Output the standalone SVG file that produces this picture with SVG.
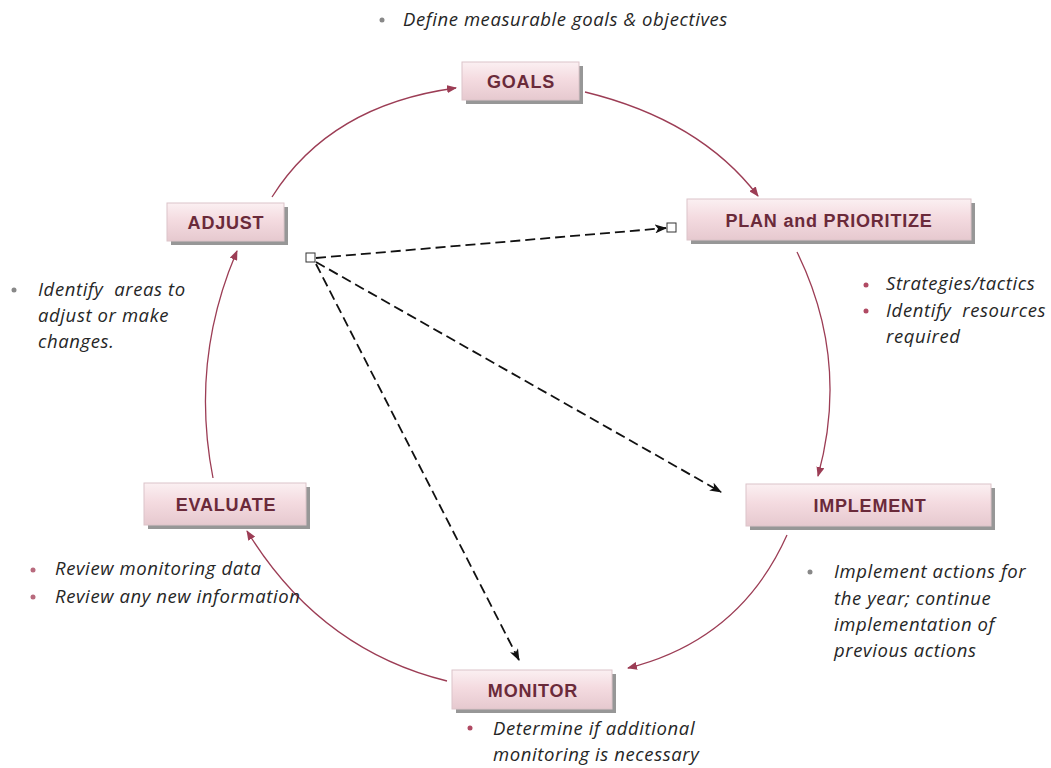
<svg xmlns="http://www.w3.org/2000/svg" width="1051" height="768" viewBox="0 0 1051 768">
<defs>
<linearGradient id="bg" x1="0" y1="0" x2="0" y2="1">
<stop offset="0" stop-color="#fbf0f2"/>
<stop offset="0.45" stop-color="#f4dbe0"/>
<stop offset="1" stop-color="#e6c9cf"/>
</linearGradient>
<marker id="ah" markerWidth="10" markerHeight="8" refX="9" refY="4" orient="auto" markerUnits="userSpaceOnUse">
<path d="M0,0 L10,4 L0,8 z" fill="#9c3d55"/>
</marker>
<marker id="dh" markerWidth="12" markerHeight="9" refX="11" refY="4.5" orient="auto" markerUnits="userSpaceOnUse">
<path d="M0,0 L12,4.5 L0,9 L3,4.5 z" fill="#111"/>
</marker>
<style>
.shadow{fill:#7d7d7d;opacity:0.8}
.box{fill:url(#bg);stroke:#dcc4c9;stroke-width:1}
.lbl{font-family:"Liberation Sans",Arial,sans-serif;font-weight:bold;font-size:18px;letter-spacing:0.8px;fill:#6a2a3a;text-anchor:middle}
.t{font-family:"Open Sans","Liberation Sans",sans-serif;font-style:italic;font-size:18.5px;letter-spacing:0.6px;fill:#262626;white-space:pre}
.cyc{fill:none;stroke:#9c3d55;stroke-width:1.3;marker-end:url(#ah)}
.dash{fill:none;stroke:#111;stroke-width:1.8;stroke-dasharray:10,5;marker-end:url(#dh)}
.sq{fill:#fff;stroke:#333;stroke-width:1}
</style>
</defs>
<rect width="1051" height="768" fill="#ffffff"/>

<g id="connectors">
<path class="cyc" d="M585,92 Q700,120 758,196"/>
<path class="cyc" d="M797,252 Q850,360 818,476"/>
<path class="cyc" d="M787,535 Q740,640 628,668"/>
<path class="cyc" d="M447,681 Q320,650 247,531"/>
<path class="cyc" d="M213,478 Q190,360 237,251"/>
<path class="cyc" d="M272,197 Q330,105 456,88"/>
<path class="dash" d="M316,258 L666,228"/>
<path class="dash" d="M316,262 L721,492"/>
<path class="dash" d="M316,264 L519,660"/>
<rect class="sq" x="306" y="253" width="9" height="9"/>
<rect class="sq" x="667" y="223" width="9" height="9"/>
</g>

<g id="goals">
<rect class="shadow" x="466" y="66" width="117" height="38"/>
<rect class="box" x="462" y="62" width="117" height="38"/>
<text class="lbl" x="521" y="88">GOALS</text>
</g>
<g id="adjust">
<rect class="shadow" x="171" y="207" width="117" height="38"/>
<rect class="box" x="167" y="203" width="117" height="38"/>
<text class="lbl" x="226" y="229">ADJUST</text>
</g>
<g id="plan">
<rect class="shadow" x="691" y="203" width="284" height="41"/>
<rect class="box" x="687" y="199" width="284" height="41"/>
<text class="lbl" x="829" y="227">PLAN and PRIORITIZE</text>
</g>
<g id="evaluate">
<rect class="shadow" x="148" y="487" width="162" height="42"/>
<rect class="box" x="144" y="483" width="162" height="42"/>
<text class="lbl" x="226" y="511">EVALUATE</text>
</g>
<g id="implement">
<rect class="shadow" x="750" y="488" width="245" height="42"/>
<rect class="box" x="746" y="484" width="245" height="42"/>
<text class="lbl" x="870" y="512">IMPLEMENT</text>
</g>
<g id="monitor">
<rect class="shadow" x="456" y="674" width="160" height="39"/>
<rect class="box" x="452" y="670" width="160" height="39"/>
<text class="lbl" x="533" y="697">MONITOR</text>
</g>

<g id="notes">
<circle cx="382" cy="20" r="2.5" fill="#888"/>
<text class="t" x="403" y="26">Define measurable goals &amp; objectives</text>

<circle cx="14" cy="290" r="2.5" fill="#888"/>
<text class="t" x="38" y="296" xml:space="preserve">Identify  areas to</text>
<text class="t" x="38" y="322">adjust or make</text>
<text class="t" x="38" y="348">changes.</text>

<circle cx="866" cy="285" r="2.5" fill="#b04a63"/>
<circle cx="866" cy="311" r="2.5" fill="#b04a63"/>
<text class="t" x="886" y="290">Strategies/tactics</text>
<text class="t" x="886" y="317" xml:space="preserve">Identify  resources</text>
<text class="t" x="886" y="343">required</text>

<circle cx="33" cy="570" r="2.5" fill="#b86a7d"/>
<circle cx="33" cy="597" r="2.5" fill="#b86a7d"/>
<text class="t" x="55" y="575">Review monitoring data</text>
<text class="t" x="55" y="603">Review any new information</text>

<circle cx="810" cy="572" r="2.5" fill="#888"/>
<text class="t" x="834" y="578">Implement actions for</text>
<text class="t" x="834" y="605">the year; continue</text>
<text class="t" x="834" y="631">implementation of</text>
<text class="t" x="834" y="657">previous actions</text>

<circle cx="470" cy="728" r="2.5" fill="#b04a63"/>
<text class="t" x="493" y="735">Determine if additional</text>
<text class="t" x="493" y="761">monitoring is necessary</text>
</g>
</svg>
